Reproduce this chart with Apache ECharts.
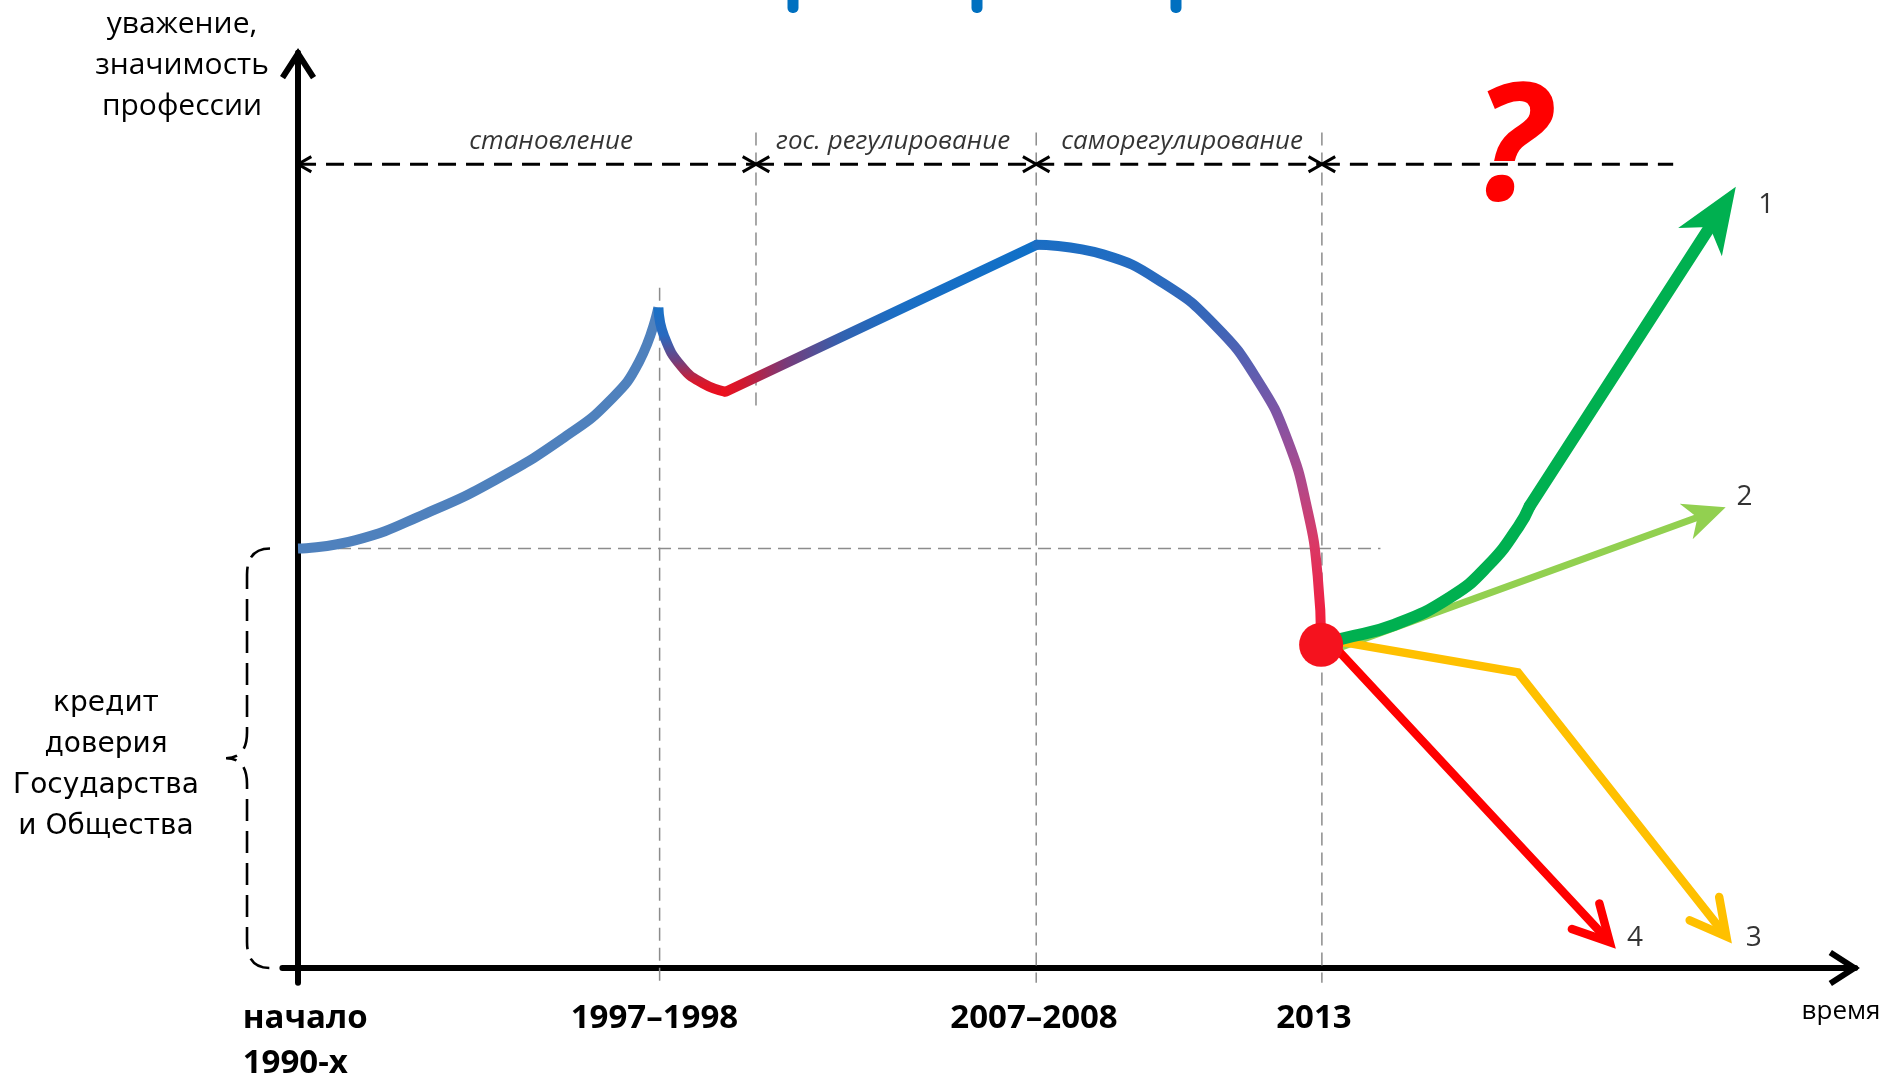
<!DOCTYPE html>
<html>
<head>
<meta charset="utf-8">
<script src="https://cdn.jsdelivr.net/npm/echarts@6/dist/echarts.min.js"></script>
<style>
html,body{margin:0;padding:0;background:#ffffff;}
#chart{width:1890px;height:1074px;}
</style>
</head>
<body>
<div id="chart"></div>
<script>
// ---------------- data (abstract units: x = time, y = respect) ----------------
const X_TICK_VALUES = [0.46, 22.82, 47.12, 65.04];
const X_TICK_LABELS = ['начало\n1990-х', '1997–1998', '2007–2008', '2013'];

const CURVE_RISE   = [[0,45.69],[3.7,46.61],[8.18,49.5],[12.65,53.18],[17.13,57.9],[19.91,61.71],[21.84,66.05],[23.07,71.95]];
const CURVE_DIP    = [[23.07,71.95],[23.45,68.76],[24.57,65.49],[25.92,63.68],[27.38,62.76]];
const CURVE_GROWTH = [[27.38,62.76],[47.3,78.78]];
const CURVE_FALL   = [[47.3,78.78],[51.54,77.73],[55.4,74.58],[58.72,69.98],[61.42,64.07],[63.35,57.51],[64.66,49.63],[65.28,42.73],[65.51,35.19]];
const NOW_POINT    = [65.5, 35.2];

const BRANCH1_CURVE = [[65.8,35.4],[66.8,35.85],[70.18,37.38],[73.79,40.41],[76.2,43.85],[78.13,48.05],[78.85,50.29]];
const BRANCH1 = [[78.85,50.29],[92.05,85.1]];
const BRANCH2 = [[66.2,34.6],[91.4,50.2]];
const BRANCH3 = [[65.5,35.9],[78.1,32.2],[91.6,3.1]];
const BRANCH4 = [[65.6,36.4],[84.15,2.5]];
const BRANCH_NAMES = ['1','2','3','4'];
const BRANCH_LABEL_POS = [[94.0,83.1],[92.6,51.3],[93.2,3.3],[85.6,3.3]];

const PERIOD_BOUNDS = [0, 29.32, 47.26, 65.55, 88.04];
const PERIOD_NAMES = ['становление', 'гос. регулирование', 'саморегулирование'];
const PERIOD_LABEL_X = [16.2, 38.1, 56.6];
const PERIOD_LINE_Y = 87.55;
const PERIOD_LABEL_Y = 90;

const GUIDE_X      = [23.15, 29.32, 47.26, 65.55];
const GUIDE_TOP    = [74.1, 91, 91, 91];
const GUIDE_BOTTOM = [-1.6, 61.1, -1.6, -1.6];
const BASE_LEVEL = 45.7;
const BASE_LEVEL_END = 69.3;
const TRUST_RANGE = [0, 45.7];

// ---------------- styles ----------------
const BRANCH_POINTS = [BRANCH1, BRANCH2, BRANCH3, BRANCH4];
const BRANCH_STYLE = [
  {color:'#00b050', width:12,  head:'stealth', len:66, half:26, notch:18},
  {color:'#92d050', width:7,   head:'stealth', len:42, half:19, notch:12},
  {color:'#ffc000', width:8.5, head:'open', len:40, angle:28},
  {color:'#ff0000', width:8.5, head:'open', len:40, angle:28}
];
const CHEVRON = 'path://M18,0 L36,28 L31,31.3 L18,11.1 L5,31.3 L0,28 Z';

function grad(x2, y2, stops) {
  return new echarts.graphic.LinearGradient(0, 0, x2, y2, stops.map(s => ({offset: s[0], color: s[1]})));
}

function branchRenderer(idx) {
  return function (params, api) {
    const st = BRANCH_STYLE[idx];
    const pts = BRANCH_POINTS[idx].map(p => api.coord(p));
    const tip = pts[pts.length - 1], prev = pts[pts.length - 2];
    const dx = tip[0] - prev[0], dy = tip[1] - prev[1];
    const L = Math.hypot(dx, dy);
    const ux = dx / L, uy = dy / L, px = -uy, py = ux;
    const shaft = pts.slice(0, -1);
    const children = [];
    if (st.head === 'stealth') {
      const bx = tip[0] - ux * st.len, by = tip[1] - uy * st.len;
      const nx = tip[0] - ux * (st.len - st.notch), ny = tip[1] - uy * (st.len - st.notch);
      shaft.push([nx + ux * 4, ny + uy * 4]);
      children.push({type:'polyline', shape:{points: shaft},
        style:{stroke: st.color, lineWidth: st.width, fill: null, lineJoin:'round', lineCap:'round'}});
      children.push({type:'polygon', shape:{points:[tip, [bx + px*st.half, by + py*st.half], [nx, ny], [bx - px*st.half, by - py*st.half]]},
        style:{fill: st.color}});
    } else {
      const a = st.angle * Math.PI / 180;
      const vx = tip[0] - ux * 4, vy = tip[1] - uy * 4;
      const c = Math.cos(a) * st.len, s = Math.sin(a) * st.len;
      shaft.push([vx - ux * 2, vy - uy * 2]);
      children.push({type:'polyline', shape:{points: shaft},
        style:{stroke: st.color, lineWidth: st.width, fill: null, lineJoin:'miter', lineCap:'round'}});
      children.push({type:'polyline', shape:{points:[[vx - ux*c + px*s, vy - uy*c + py*s], [vx, vy], [vx - ux*c - px*s, vy - uy*c - py*s]]},
        style:{stroke: st.color, lineWidth: st.width, fill: null, lineJoin:'miter', lineCap:'round'}});
    }
    return {type:'group', children};
  };
}

function periodRenderer(params, api) {
  const i = params.dataIndex;
  const s = api.coord([PERIOD_BOUNDS[i], PERIOD_LINE_Y]);
  const e = api.coord([PERIOD_BOUNDS[i + 1], PERIOD_LINE_Y]);
  const armX = 13.3, armY = 7.6;
  const children = [
    {type:'line', shape:{x1:s[0], y1:s[1], x2:e[0], y2:e[1]},
      style:{stroke:'#000', lineWidth:3, lineDash:[18,10]}},
    {type:'polyline', shape:{points:[[s[0]+armX, s[1]-armY],[s[0], s[1]],[s[0]+armX, s[1]+armY]]},
      style:{stroke:'#000', lineWidth:3, fill:null}}
  ];
  if (i < PERIOD_BOUNDS.length - 2) {
    children.push({type:'polyline', shape:{points:[[e[0]-armX, e[1]-armY],[e[0], e[1]],[e[0]-armX, e[1]+armY]]},
      style:{stroke:'#000', lineWidth:3, fill:null}});
  }
  return {type:'group', children};
}

function braceRenderer(params, api) {
  const top = api.coord([0, TRUST_RANGE[1]]);
  const bot = api.coord([0, TRUST_RANGE[0]]);
  const x0 = top[0];
  const xr = x0 - 28, xm = x0 - 51, xt = x0 - 72;
  const yt = top[1], yb = bot[1], ym = (yt + yb) / 2;
  const d = 'M' + xr + ',' + yt + ' Q' + xm + ',' + yt + ' ' + xm + ',' + (yt + 26) +
            ' L' + xm + ',' + (ym - 26) + ' Q' + xm + ',' + ym + ' ' + xt + ',' + ym +
            ' Q' + xm + ',' + ym + ' ' + xm + ',' + (ym + 26) +
            ' L' + xm + ',' + (yb - 26) + ' Q' + xm + ',' + yb + ' ' + xr + ',' + yb;
  return {type:'path', shape:{pathData: d}, style:{stroke:'#000', fill:null, lineWidth:2.6, lineDash:[22,10]}};
}

const guideSeries = GUIDE_X.map((x, i) => ({
  type:'line', data:[[x, GUIDE_TOP[i]], [x, GUIDE_BOTTOM[i]]],
  showSymbol:false, symbol:'none', silent:true, z:1, clip:false,
  lineStyle:{color:'#8c8c8c', width:1.5, type:[13,7]}
}));
guideSeries.push({
  type:'line', data:[[0, BASE_LEVEL], [BASE_LEVEL_END, BASE_LEVEL]],
  showSymbol:false, symbol:'none', silent:true, z:1, clip:false,
  lineStyle:{color:'#8c8c8c', width:1.5, type:[13,7]}
});

function curve(data, color, cap, smooth) {
  return {
    type:'line', data, smooth: smooth, showSymbol:false, symbol:'none', silent:true, z:3, clip:false,
    lineStyle:{color, width:10, cap: cap, join:'round'}
  };
}

const option = {
  animation:false,
  backgroundColor:'#ffffff',
  grid:{left:282.4, right:34.7, top:52.7, bottom:91.3, containLabel:false, outerBoundsMode:'none'},
  xAxis:{
    type:'value', min:-1, max:99.7,
    splitLine:{show:false}, axisTick:{show:false},
    axisLine:{onZero:true, lineStyle:{color:'#000', width:6}, symbol:['none', CHEVRON], symbolSize:[36,31.3], symbolOffset:[0,-11]},
    axisLabel:{
      customValues: X_TICK_VALUES,
      formatter: function (v) {
        const k = X_TICK_VALUES.findIndex(t => Math.abs(t - v) < 1e-6);
        if (k < 0) return '';
        return X_TICK_LABELS[k].split('\n').map(s => '{l|' + s + '}').join('\n');
      },
      rich:{l:{align:'left', fontFamily:'Open Sans', fontWeight:'bold', fontSize:33, color:'#000', lineHeight:45}},
      fontFamily:'Open Sans', fontWeight:'bold', fontSize:33, color:'#000', margin:13, lineHeight:45
    }
  },
  yAxis:{
    type:'value', min:-1.6, max:99.7,
    splitLine:{show:false}, axisTick:{show:false}, axisLabel:{show:false},
    axisLine:{onZero:true, lineStyle:{color:'#000', width:6}, symbol:['none', CHEVRON], symbolSize:[36,31.3], symbolOffset:[0,-11]}
  },
  graphic:[
    {type:'rect', shape:{x:787.5, y:-6, width:11, height:19, r:5}, style:{fill:'#0070c0'}},
    {type:'rect', shape:{x:971.5, y:-6, width:11, height:19, r:5}, style:{fill:'#0070c0'}},
    {type:'rect', shape:{x:1170.5, y:-6, width:11, height:19, r:5}, style:{fill:'#0070c0'}},
    {type:'text', x:182, y:65, style:{text:'уважение,\nзначимость\nпрофессии', fontFamily:'Open Sans', fontSize:30, lineHeight:41, fill:'#000', align:'center', verticalAlign:'middle'}},
    {type:'text', x:106, y:765, style:{text:'кредит\nдоверия\nГосударства\nи Общества', fontFamily:'DejaVu Sans', fontSize:28, lineHeight:41, fill:'#000', align:'center', verticalAlign:'middle'}},
    {type:'text', x:1511, y:153, style:{text:'?', fontFamily:'Open Sans', fontWeight:'bold', fontStyle:'italic', fontSize:164, fill:'#ff0000', align:'center', verticalAlign:'middle'}},
    {type:'text', x:1841, y:1012, style:{text:'время', fontFamily:'Open Sans', fontSize:26, fill:'#000', align:'center', verticalAlign:'middle'}}
  ],
  series:[
    ...guideSeries,
    {type:'custom', data:[[PERIOD_BOUNDS[0], PERIOD_LINE_Y],[PERIOD_BOUNDS[1], PERIOD_LINE_Y],[PERIOD_BOUNDS[2], PERIOD_LINE_Y],[PERIOD_BOUNDS[3], PERIOD_LINE_Y]],
      renderItem: periodRenderer, silent:true, z:2, clip:false},
    {type:'custom', data:[[0, TRUST_RANGE[1]]], renderItem: braceRenderer, silent:true, z:2, clip:false},
    {type:'scatter', data: PERIOD_LABEL_X.map((x, i) => [x, PERIOD_LABEL_Y, PERIOD_NAMES[i]]), symbolSize:0, silent:true, z:6,
      label:{show:true, position:'inside', formatter: p => p.data[2], fontFamily:'Open Sans', fontStyle:'italic', fontSize:26, color:'#000'}},
    curve(CURVE_RISE, '#4f81bd', 'butt', 0.5),
    curve(CURVE_DIP, grad(0, 1, [[0,'#1572c8'],[0.35,'#2a6abf'],[0.62,'#72407e'],[0.85,'#d8182c'],[1,'#f00a1a']]), 'butt', 0.5),
    curve(CURVE_GROWTH, grad(1, 0, [[0,'#f0101c'],[0.07,'#d01830'],[0.2,'#7a3a78'],[0.38,'#3262b0'],[0.55,'#1a6ec4'],[1,'#0f70c8']]), 'round', false),
    curve(CURVE_FALL, grad(0, 1, [[0,'#1a6ec4'],[0.2,'#3a66b8'],[0.32,'#5e5eb0'],[0.46,'#8a52a0'],[0.6,'#b44888'],[0.73,'#d83a68'],[0.88,'#ec2448'],[1,'#f81428']]), 'round', 0.5),
    {type:'custom', data:[BRANCH2[BRANCH2.length-1]], renderItem: branchRenderer(1), silent:true, z:4, clip:false},
    {type:'custom', data:[BRANCH3[BRANCH3.length-1]], renderItem: branchRenderer(2), silent:true, z:4, clip:false},
    {type:'custom', data:[BRANCH4[BRANCH4.length-1]], renderItem: branchRenderer(3), silent:true, z:4, clip:false},
    {type:'line', data: BRANCH1_CURVE, smooth:0.5, showSymbol:false, symbol:'none', silent:true, z:4, clip:false,
      lineStyle:{color:'#00b050', width:12, cap:'round'}},
    {type:'custom', data:[BRANCH1[BRANCH1.length-1]], renderItem: branchRenderer(0), silent:true, z:4, clip:false},
    {type:'scatter', data:[NOW_POINT], symbolSize:44, silent:true, z:8, itemStyle:{color:'#f5121e', opacity:1}},
    {type:'scatter', data: BRANCH_LABEL_POS.map((p, i) => [p[0], p[1], BRANCH_NAMES[i]]), symbolSize:0, silent:true, z:6,
      label:{show:true, position:'inside', formatter: p => p.data[2], fontFamily:'Open Sans', fontSize:28, color:'#000'}}
  ]
};

const chart = echarts.init(document.getElementById('chart'));
chart.setOption(option);
</script>
</body>
</html>
